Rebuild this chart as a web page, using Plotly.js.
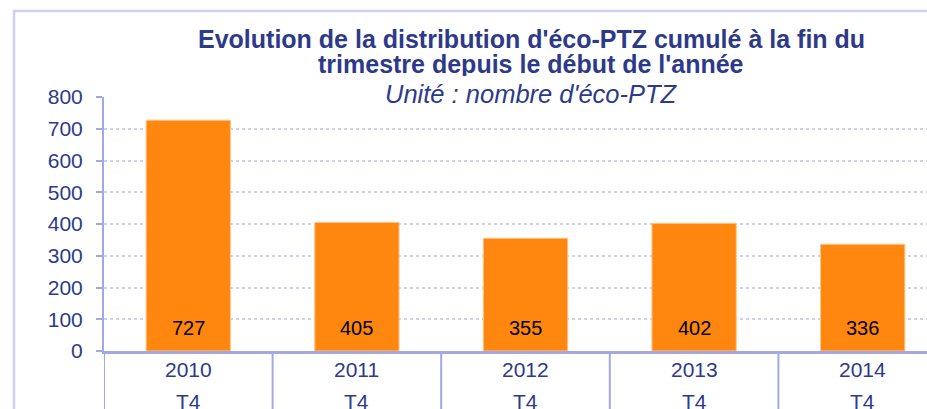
<!DOCTYPE html>
<html>
<head>
<meta charset="utf-8">
<script src="https://cdn.plot.ly/plotly-3.0.1.min.js"></script>
<style>
html,body{margin:0;padding:0;overflow:hidden;background:#fff;width:927px;height:409px;}
#chart{width:947px;height:430px;}
</style>
</head>
<body>
<div id="chart"></div>
<script>
const years = ["2010", "2011", "2012", "2013", "2014"];
const quarters = ["T4", "T4", "T4", "T4", "T4"];
const values = [727, 405, 355, 402, 336];
const yTicks = [0, 100, 200, 300, 400, 500, 600, 700, 800];

const titleLine1 = "Evolution de la distribution d'éco-PTZ cumulé à la fin du";
const titleLine2 = "trimestre depuis le début de l'année";
const subtitle = "Unité : nombre d'éco-PTZ";

const navy = "#2D3A8A";
const lav = "#A3A8E3";
const grid = "#CDD1F2";
const font = "Liberation Sans, Arial, sans-serif";

const W = 947, H = 430, L = 104, T = 97, B = 79;
const pw = W - L, ph = H - T - B;
const px = x => (x - L) / pw;
const py = y => (H - B - y) / ph;
const idx = years.map((_, i) => i);

const annotations = [
  {text: "<b>" + titleLine1 + "</b>", xref: "paper", yref: "paper", x: px(531), y: py(39.5), xanchor: "center", yanchor: "middle", height: 24, showarrow: false, font: {family: font, size: 25, color: navy}},
  {text: "<b>" + titleLine2 + "</b>", xref: "paper", yref: "paper", x: px(531), y: py(64), xanchor: "center", yanchor: "middle", height: 24, showarrow: false, font: {family: font, size: 25, color: navy}},
  {text: "<i>" + subtitle + "</i>", xref: "paper", yref: "paper", x: px(531), y: py(94), xanchor: "center", yanchor: "middle", bgcolor: "#fff", borderpad: 0, height: 26, showarrow: false, font: {family: font, size: 25.5, color: navy}}
];
idx.forEach(i => {
  annotations.push({text: String(values[i]), x: i, y: 0, xref: "x", yref: "y", yanchor: "middle", yshift: 23, showarrow: false, font: {family: font, size: 20, color: "#000"}});
  annotations.push({text: years[i], x: i, xref: "x", yref: "paper", y: py(369), yanchor: "middle", showarrow: false, font: {family: font, size: 21, color: navy}});
  annotations.push({text: quarters[i], x: i, xref: "x", yref: "paper", y: py(401), yanchor: "middle", showarrow: false, font: {family: font, size: 21, color: navy}});
});

const shapes = [
  {type: "rect", xref: "paper", yref: "paper", x0: px(14), x1: px(1000), y0: py(11), y1: py(500), line: {color: "#CDD0F0", width: 2.5}, layer: "below"}
];
for (let i = 0; i <= years.length; i++) {
  shapes.push({type: "line", xref: "x", yref: "paper", x0: i - 0.5, x1: i - 0.5, y0: 0, y1: py(440), line: {color: lav, width: 2}});
}

const trace = {
  type: "bar",
  x: idx,
  y: values,
  marker: {color: "#FF870F", line: {color: "#FFC58A", width: 1}},
  hoverinfo: "none"
};

const layout = {
  width: W, height: H,
  margin: {l: L, r: 0, t: T, b: B, pad: 0},
  paper_bgcolor: "#fff", plot_bgcolor: "#fff",
  showlegend: false,
  bargap: 0.5,
  xaxis: {
    type: "linear", range: [-0.5, 4.5],
    showline: true, linecolor: lav, linewidth: 2.5,
    ticks: "", showgrid: false, zeroline: false,
    showticklabels: false,
    fixedrange: true
  },
  yaxis: {
    range: [0, 800], tickvals: yTicks,
    showline: true, linecolor: lav, linewidth: 2,
    ticks: "outside", ticklen: 6, tickwidth: 2, tickcolor: lav,
    showgrid: true, gridcolor: grid, gridwidth: 2, griddash: "dot",
    zeroline: false,
    tickfont: {family: font, size: 21, color: navy},
    ticklabelstandoff: 9,
    fixedrange: true
  },
  annotations: annotations,
  shapes: shapes
};

Plotly.newPlot("chart", [trace], layout, {displayModeBar: false, staticPlot: true});
</script>
</body>
</html>
